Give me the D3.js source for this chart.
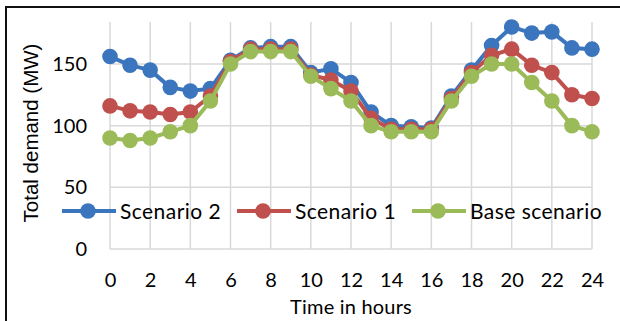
<!DOCTYPE html>
<html>
<head>
<meta charset="utf-8">
<script src="https://cdn.jsdelivr.net/npm/d3@7"></script>
<style>
  html, body { margin: 0; padding: 0; background: #fff; }
  svg { display: block; }
</style>
</head>
<body>
<svg id="chart" width="620" height="321"></svg>
<script>
// Hourly total demand (MW) for each scenario
const hours = d3.range(0, 25);
const scenario2 = [156, 149, 145, 131, 128, 130, 153, 163, 164, 164, 143, 146, 135, 111, 100, 99, 98, 124, 145, 165, 180, 175, 176, 163, 162];
const scenario1 = [116, 112, 111, 109, 111, 124, 152, 162, 162, 162, 141, 137, 128, 106, 97, 97, 97, 122, 143, 157, 162, 149, 143, 125, 122];
const baseScenario = [90, 88, 90, 95, 100, 120, 150, 160, 160, 160, 140, 130, 120, 100, 95, 95, 95, 120, 140, 150, 150, 135, 120, 100, 95];

const xTicks = d3.range(0, 25, 2);
const yTicks = [0, 50, 100, 150];

// Drawn in this order so the base scenario sits on top
const series = [
  { name: "Scenario 2", values: scenario2, color: "#3a75bd" },
  { name: "Scenario 1", values: scenario1, color: "#c0504d" },
  { name: "Base scenario", values: baseScenario, color: "#9bbb59" }
];

const svg = d3.select("#chart");
const x = d3.scaleLinear().domain([0, 24]).range([110, 592]);
const y = d3.scaleLinear().domain([0, 184]).range([249, 22]);

// Outer frame (top and left edges visible)
svg.append("path")
  .attr("d", "M6,321 V7 H620")
  .attr("fill", "none")
  .attr("stroke", "#111")
  .attr("stroke-width", 2);

// Gridlines
const grid = svg.append("g").attr("stroke", "#d9d9d9").attr("stroke-width", 1.5);
grid.selectAll("line.v").data(xTicks).join("line")
  .attr("x1", d => x(d)).attr("x2", d => x(d))
  .attr("y1", y(184)).attr("y2", y(0));
grid.selectAll("line.h").data(yTicks).join("line")
  .attr("x1", x(0)).attr("x2", x(24))
  .attr("y1", d => y(d)).attr("y2", d => y(d));

// Axes (labels only, Excel style)
const font = "Lato, 'Open Sans', sans-serif";
const xAxis = svg.append("g")
  .attr("transform", `translate(0,${y(0)})`)
  .call(d3.axisBottom(x).tickValues(xTicks).tickSize(0).tickPadding(24).tickFormat(d3.format("d")));
xAxis.select(".domain").remove();
xAxis.selectAll("text").attr("font-family", font).attr("font-size", 20).attr("fill", "#000");

const yAxis = svg.append("g")
  .attr("transform", `translate(${x(0)},0)`)
  .call(d3.axisLeft(y).tickValues(yTicks).tickSize(0).tickPadding(23).tickFormat(d3.format("d")));
yAxis.select(".domain").remove();
yAxis.selectAll("text").attr("font-family", font).attr("font-size", 20).attr("fill", "#000");

// Axis titles
svg.append("text")
  .attr("x", 351).attr("y", 314)
  .attr("text-anchor", "middle")
  .attr("font-family", font).attr("font-size", 20)
  .attr("letter-spacing", 0.2)
  .text("Time in hours");

svg.append("text")
  .attr("transform", "translate(38,133) rotate(-90)")
  .attr("text-anchor", "middle")
  .attr("font-family", "'Liberation Sans', Arial, sans-serif").attr("font-size", 20.5)
  .text("Total demand (MW)");

// Series lines and markers
const line = d3.line().x((d, i) => x(hours[i])).y(d => y(d));
series.forEach(s => {
  const g = svg.append("g");
  g.append("path")
    .attr("d", line(s.values))
    .attr("fill", "none")
    .attr("stroke", s.color)
    .attr("stroke-width", 4)
    .attr("stroke-linejoin", "round");
  g.selectAll("circle").data(s.values).join("circle")
    .attr("cx", (d, i) => x(hours[i]))
    .attr("cy", d => y(d))
    .attr("r", 7.8)
    .attr("fill", s.color);
});

// Legend
const legendY = 211;
const legendX = [62, 237, 412];
series.forEach((s, i) => {
  const g = svg.append("g").attr("transform", `translate(${legendX[i]},${legendY})`);
  g.append("line").attr("x1", 0).attr("x2", 54).attr("y1", 0).attr("y2", 0)
    .attr("stroke", s.color).attr("stroke-width", 4);
  g.append("circle").attr("cx", 26).attr("cy", 0).attr("r", 7.8).attr("fill", s.color);
  g.append("text").attr("x", 58).attr("y", 7.5)
    .attr("font-family", font).attr("font-size", 21).attr("fill", "#000")
    .attr("letter-spacing", 0.45)
    .text(s.name);
});
</script>
</body>
</html>
